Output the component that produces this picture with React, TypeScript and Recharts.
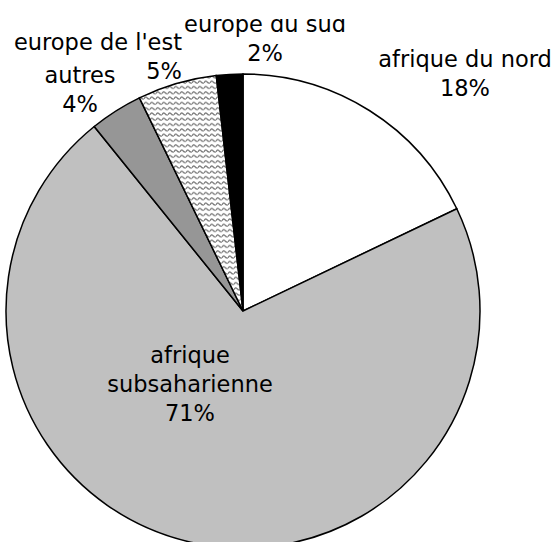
import React from "react";
import { PieChart, Pie, Cell } from "recharts";

const categories = [
  "afrique du nord",
  "afrique subsaharienne",
  "autres",
  "europe de l'est",
  "europe du sud",
];
const values = [17.9, 71.3, 3.6, 5.4, 1.8];
const labelLines = [
  ["afrique du nord"],
  ["afrique", "subsaharienne"],
  ["autres"],
  ["europe de l'est"],
  ["europe du sud"],
];
const fills = ["#ffffff", "#c0c0c0", "#969696", "url(#wavy)", "#000000"];

// label placement relative to pie centre (dx, first baseline dy, anchor)
const labelPlace = [
  { dx: 222, dy: -244, anchor: "middle" },
  { dx: -53, dy: 52, anchor: "middle" },
  { dx: -163, dy: -228, anchor: "middle" },
  { dx: -61, dy: -261, anchor: "end" },
  { dx: 22, dy: -279, anchor: "middle" },
];

const data = categories.map((name, i) => ({ name, value: values[i] }));
const total = values.reduce((a, b) => a + b, 0);

const FONT = "'DejaVu Sans', Verdana, sans-serif";
const LINE = 29;

const renderLabel = (props: any) => {
  const { cx, cy, index } = props;
  const p = labelPlace[index];
  const pct = Math.round((values[index] / total) * 100) + "%";
  const lines = [...labelLines[index], pct];
  return (
    <text
      key={"lbl" + index}
      textAnchor={p.anchor}
      fontFamily={FONT}
      fontSize={22.5}
      fill="#000"
    >
      {lines.map((t, j) => (
        <tspan key={j} x={cx + p.dx} y={cy + p.dy + j * LINE}>
          {t}
        </tspan>
      ))}
    </text>
  );
};

export default function App() {
  return (
    <div
      style={{
        position: "absolute",
        left: 0,
        top: 19,
        width: 555,
        height: 523,
        overflow: "hidden",
        background: "#fff",
      }}
    >
      <div style={{ marginTop: -19 }}>
        <PieChart width={555} height={560} margin={{ top: 0, right: 0, bottom: 0, left: 0 }}>
          <defs>
            <pattern id="wavy" patternUnits="userSpaceOnUse" width="6" height="5.3">
              <rect width="6" height="5.3" fill="#ffffff" />
              <path
                d="M0 3.4 Q1.5 0.6 3 2.4 Q4.5 4.2 6 3.4"
                fill="none"
                stroke="#777777"
                strokeWidth="1.2"
              />
            </pattern>
          </defs>
          <Pie
            data={data}
            dataKey="value"
            nameKey="name"
            cx={243}
            cy={311}
            outerRadius={237}
            startAngle={90}
            endAngle={-270}
            stroke="#000"
            strokeWidth={1.5}
            label={renderLabel}
            labelLine={false}
            isAnimationActive={false}
          >
            {data.map((d, i) => (
              <Cell key={d.name} fill={fills[i]} stroke="#000" strokeWidth={1.5} />
            ))}
          </Pie>
        </PieChart>
      </div>
    </div>
  );
}
